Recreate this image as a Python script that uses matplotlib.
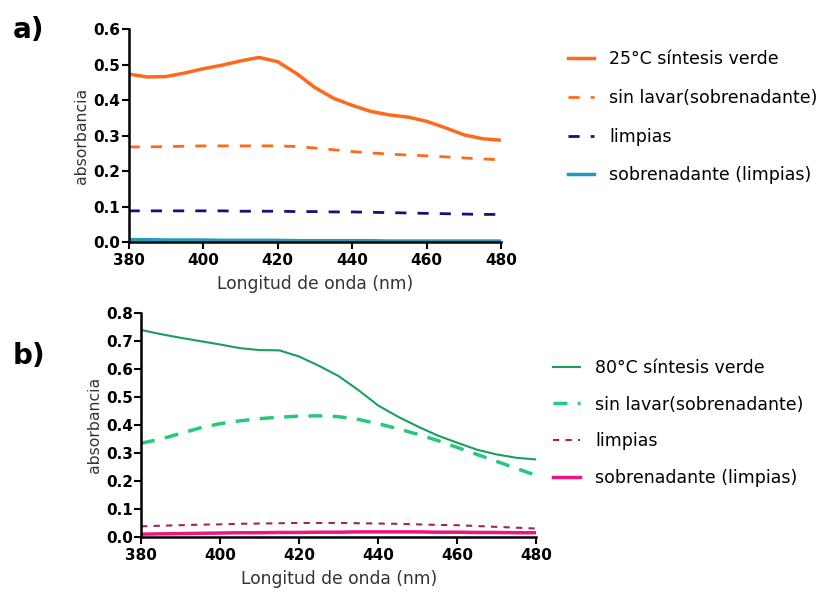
import matplotlib.pyplot as plt
import numpy as np

# longitudes de onda (nm)
wl = np.arange(380, 485, 5)

# a) 25 C
a_verde = [0.473, 0.465, 0.466, 0.476, 0.488, 0.498, 0.510, 0.520, 0.508, 0.475, 0.435,
           0.405, 0.385, 0.368, 0.358, 0.352, 0.340, 0.322, 0.302, 0.291, 0.287]
a_sinlavar = [0.268, 0.268, 0.269, 0.270, 0.271, 0.271, 0.271, 0.271, 0.271, 0.269, 0.265,
              0.260, 0.255, 0.251, 0.248, 0.245, 0.243, 0.240, 0.237, 0.234, 0.232]
a_limpias = [0.088, 0.088, 0.088, 0.088, 0.088, 0.088, 0.087, 0.087, 0.087, 0.086, 0.086,
             0.085, 0.085, 0.084, 0.083, 0.082, 0.081, 0.080, 0.079, 0.078, 0.078]
a_sobren = [0.007, 0.007, 0.006, 0.006, 0.006, 0.005, 0.005, 0.005, 0.005, 0.004, 0.004,
            0.004, 0.004, 0.004, 0.003, 0.003, 0.003, 0.003, 0.003, 0.003, 0.003]

# b) 80 C
b_verde = [0.740, 0.725, 0.712, 0.700, 0.688, 0.675, 0.668, 0.667, 0.645, 0.612, 0.575,
           0.525, 0.470, 0.430, 0.395, 0.363, 0.337, 0.312, 0.295, 0.283, 0.277]
b_sinlavar = [0.335, 0.350, 0.370, 0.390, 0.405, 0.415, 0.423, 0.428, 0.432, 0.433, 0.430,
              0.420, 0.405, 0.387, 0.367, 0.345, 0.320, 0.295, 0.270, 0.245, 0.220]
b_limpias = [0.038, 0.040, 0.042, 0.044, 0.045, 0.047, 0.048, 0.049, 0.050, 0.050, 0.050,
             0.049, 0.048, 0.047, 0.045, 0.043, 0.042, 0.039, 0.036, 0.033, 0.030]
b_sobren = [0.010, 0.011, 0.012, 0.013, 0.014, 0.015, 0.015, 0.016, 0.016, 0.017, 0.017,
            0.018, 0.018, 0.018, 0.018, 0.017, 0.017, 0.016, 0.016, 0.015, 0.015]

fig = plt.figure(figsize=(8.3, 5.92), dpi=100)
ax1 = fig.add_axes([0.155, 0.591, 0.449, 0.360])
ax2 = fig.add_axes([0.170, 0.093, 0.476, 0.378])

kw = dict(solid_joinstyle='round', dash_joinstyle='round')
l1 = ax1.plot(wl, a_verde, color='#FF6A1A', lw=2.5, label='25°C síntesis verde', **kw)[0]
l2 = ax1.plot(wl, a_sinlavar, color='#FF6A1A', lw=2, ls=(0, (4, 4)), label='sin lavar(sobrenadante)', **kw)[0]
l3 = ax1.plot(wl, a_limpias, color='#12127A', lw=2, ls=(0, (4, 4)), label='limpias', **kw)[0]
l4 = ax1.plot(wl, a_sobren, color='#1E9BBE', lw=2.5, label='sobrenadante (limpias)', **kw)[0]

m1 = ax2.plot(wl, b_verde, color='#1A9E5C', lw=1.5, label='80°C síntesis verde', **kw)[0]
m2 = ax2.plot(wl, b_sinlavar, color='#25C97A', lw=2.5, ls=(0, (4, 3)), label='sin lavar(sobrenadante)', **kw)[0]
m3 = ax2.plot(wl, b_limpias, color='#A3245B', lw=1.5, ls=(0, (3, 3)), label='limpias', **kw)[0]
m4 = ax2.plot(wl, b_sobren, color='#F0157E', lw=2.5, label='sobrenadante (limpias)', **kw)[0]

for ax, ymax in ((ax1, 0.6), (ax2, 0.8)):
    ax.set_xlim(380, 480)
    ax.set_ylim(0, ymax)
    ax.set_xticks(np.arange(380, 481, 20))
    ax.set_yticks(np.arange(0, ymax + 0.01, 0.1))
    ax.set_yticklabels(['%.1f' % v for v in np.arange(0, ymax + 0.01, 0.1)])
    ax.spines['top'].set_visible(False)
    ax.spines['right'].set_visible(False)
    ax.spines['left'].set_linewidth(1.8)
    ax.spines['bottom'].set_linewidth(1.8)
    ax.tick_params(width=1.5, length=5, labelsize=11)
    ax.tick_params(axis='y', pad=1)
    ax.tick_params(axis='x', pad=3)
    for t in ax.get_xticklabels() + ax.get_yticklabels():
        t.set_fontweight('bold')
    ax.set_xlabel('Longitud de onda (nm)', fontsize=12.3, color='#333333', labelpad=5)
    ax.set_ylabel('absorbancia', fontsize=11.3, color='#333333', labelpad=3)

ax1.legend(handles=[l1, l2, l3, l4], loc='upper left', bbox_to_anchor=(0.665, 0.942),
           bbox_transform=fig.transFigure, frameon=False, labelspacing=1.2,
           handlelength=1.5, handletextpad=0.9, fontsize=12.5)
ax2.legend(handles=[m1, m2, m3, m4], loc='upper left', bbox_to_anchor=(0.648, 0.42),
           bbox_transform=fig.transFigure, frameon=False, labelspacing=1.07,
           handlelength=1.5, handletextpad=0.9, fontsize=12.5)

fig.text(0.015, 0.935, 'a)', fontsize=20, fontweight='bold')
fig.text(0.015, 0.385, 'b)', fontsize=20, fontweight='bold')

fig.savefig('out.png', dpi=100)
